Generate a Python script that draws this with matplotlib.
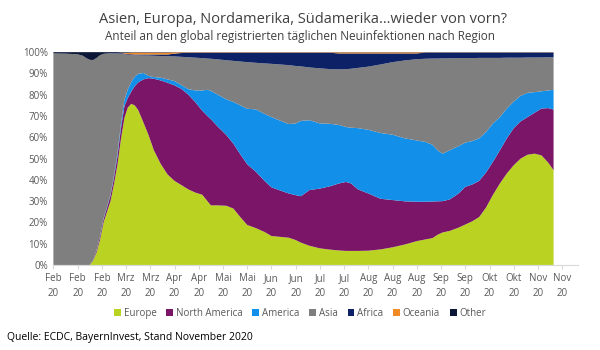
import matplotlib
matplotlib.use("Agg")
import matplotlib.pyplot as plt
from matplotlib.patches import Patch

plt.rcParams['font.family'] = ['Open Sans', 'DejaVu Sans']

# days since 1 Feb 2020
days = [0, 7, 14, 17, 19, 21, 23, 25, 27, 29, 31, 33, 35, 37, 39, 41, 43, 45, 47, 49,
        52, 55, 58, 62, 66, 70, 74, 78, 82, 86, 89, 91, 95, 100, 104, 108, 112, 117, 122, 126,
        131, 136, 140, 143, 148, 154, 160, 165, 169, 172, 176, 182, 189, 196, 203, 210, 215, 219, 222, 225,
        229, 234, 238, 242, 246, 250, 254, 258, 262, 266, 270, 274, 278, 282, 286, 289]

europe = [0, 0, 0, 0, 0, 0, 2, 6, 12, 20, 25, 30, 38, 47, 59, 69, 74, 75.7, 75, 72.8,
          67, 61, 54, 47.5, 42.5, 39.5, 37.5, 35.5, 34, 33, 30, 28, 28, 27.8, 26.5, 22.5, 18.8, 17.3, 15.5, 13.6,
          13.2, 12.8, 11.7, 10.5, 9, 7.8, 7.2, 6.8, 6.6, 6.6, 6.6, 6.7, 7.3, 8.3, 9.6, 11.2, 12, 12.6, 14.2, 15.3,
          16, 17.5, 19, 20.5, 22.5, 27, 33, 38.3, 43, 46.9, 50, 51.8, 52.3, 51.5, 48, 44.5]

north_america = [0, 0, 0, 0, 0, 0, 0.3, 1.0, 1.5, 1.5, 2.0, 2.5, 3.0, 4.0, 5.0, 5.5, 4.5, 5.8, 9.0, 13.0,
                 20.2, 26.8, 33.5, 39.2, 43.1, 44.9, 45.2, 44.5, 42.5, 39.5, 40.0, 40.5, 37.0, 33.2, 30.5, 29.5, 28.5, 26.5, 24.0, 22.9,
                 21.8, 20.8, 21.1, 21.8, 26.2, 28.1, 29.8, 31.5, 32.4, 31.7, 28.9, 26.9, 23.8, 22.2, 20.3, 18.5, 17.7, 17.2, 15.7, 14.7,
                 14.8, 16.0, 17.7, 17.3, 17.0, 16.5, 15.5, 15.6, 16.5, 17.4, 17.5, 17.7, 19.2, 22.0, 25.7, 28.5]

america = [0, 0, 0, 0, 0, 0, 0, 0.2, 0.3, 0.5, 0.5, 0.5, 1.0, 1.5, 2.0, 3.0, 4.0, 4.5, 4.5, 4.0,
           3.0, 1.0, 0.8, 1.3, 1.6, 2.0, 1.8, 2.6, 5.5, 9.5, 12.3, 13.3, 15.0, 16.8, 19.6, 23.0, 26.1, 29.3, 31.5, 33.0,
           32.8, 32.6, 33.7, 35.4, 32.8, 30.6, 29.3, 27.5, 25.8, 26.2, 28.8, 29.9, 30.9, 30.7, 29.6, 28.8, 28.1, 26.7, 23.9, 22.3,
           23.1, 22.3, 20.8, 20.4, 20.0, 19.0, 18.0, 15.6, 14.0, 12.5, 12.0, 11.4, 9.7, 8.1, 8.3, 9.3]

asia = [99.4, 99.3, 99.0, 98.3, 97.2, 96.4, 94.0, 90.1, 84.8, 77.2, 71.8, 66.4, 57.4, 46.9, 33.3, 21.6, 16.3, 12.6, 10.0, 8.7,
        8.2, 9.6, 10.0, 10.2, 10.9, 11.6, 13.3, 15.0, 15.4, 15.2, 14.7, 15.1, 16.6, 18.4, 19.3, 20.6, 21.9, 21.9, 23.7, 25.0,
        26.4, 27.7, 27.0, 25.6, 24.8, 25.9, 25.7, 26.1, 27.2, 27.7, 28.3, 29.7, 32.2, 34.1, 36.6, 38.2, 39.1, 40.5, 43.2, 44.8,
        43.2, 41.4, 39.7, 39.0, 37.8, 34.8, 30.8, 27.8, 23.9, 20.6, 17.9, 16.6, 16.3, 15.9, 15.6, 15.3]

africa = [0, 0, 0, 0, 0, 0, 0, 0, 0, 0, 0.1, 0.1, 0.2, 0.2, 0.3, 0.3, 0.3, 0.4, 0.4, 0.4,
          0.5, 0.5, 0.6, 0.7, 0.8, 1.3, 1.8, 2.1, 2.3, 2.5, 2.7, 2.8, 3.1, 3.5, 3.8, 4.1, 4.4, 4.7, 5.0, 5.2,
          5.5, 5.8, 6.2, 6.4, 6.9, 7.3, 7.7, 7.5, 7.4, 7.2, 6.8, 6.2, 5.2, 4.1, 3.3, 2.7, 2.9, 2.8, 2.8, 2.7,
          2.7, 2.6, 2.6, 2.6, 2.5, 2.5, 2.5, 2.5, 2.4, 2.4, 2.4, 2.3, 2.3, 2.3, 2.2, 2.2]

oceania = [0, 0, 0, 0, 0, 0, 0, 0, 0, 0, 0, 0, 0, 0, 0.1, 0.3, 0.6, 0.8, 0.9, 0.9,
           0.9, 0.9, 0.9, 0.9, 0.9, 0.6, 0.3, 0.2, 0.2, 0.2, 0.2, 0.2, 0.2, 0.2, 0.2, 0.2, 0.2, 0.2, 0.2, 0.2,
           0.2, 0.2, 0.2, 0.2, 0.2, 0.2, 0.2, 0.5, 0.5, 0.5, 0.5, 0.5, 0.5, 0.5, 0.5, 0.5, 0.1, 0.1, 0.1, 0.1,
           0.1, 0.1, 0.1, 0.1, 0.1, 0.1, 0.1, 0.1, 0.1, 0.1, 0.1, 0.1, 0.1, 0.1, 0.1, 0.1]

other = [0.6, 0.7, 1.0, 1.7, 2.8, 3.6, 3.7, 2.7, 1.4, 0.8, 0.6, 0.5, 0.4, 0.4, 0.3, 0.3, 0.3, 0.2, 0.2, 0.2,
         0.2, 0.2, 0.2, 0.2, 0.2, 0.1, 0.1, 0.1, 0.1, 0.1, 0.1, 0.1, 0.1, 0.1, 0.1, 0.1, 0.1, 0.1, 0.1, 0.1,
         0.1, 0.1, 0.1, 0.1, 0.1, 0.1, 0.1, 0.1, 0.1, 0.1, 0.1, 0.1, 0.1, 0.1, 0.1, 0.1, 0.1, 0.1, 0.1, 0.1,
         0.1, 0.1, 0.1, 0.1, 0.1, 0.1, 0.1, 0.1, 0.1, 0.1, 0.1, 0.1, 0.1, 0.1, 0.1, 0.1]

series_names = ["Europe", "North America", "America", "Asia", "Africa", "Oceania", "Other"]
colors = ["#BAD323", "#7B1567", "#128FE8", "#7F7F7F", "#0D2266", "#F08A24", "#0C1636"]

tick_days = [0, 14, 28, 42, 56, 70, 84, 98, 112, 126, 140, 154, 168, 182, 196, 210, 224, 238, 252, 266, 280, 294]
tick_months = ["Feb", "Feb", "Feb", "Mrz", "Mrz", "Apr", "Apr", "Mai", "Mai", "Jun", "Jun",
               "Jul", "Jul", "Aug", "Aug", "Aug", "Sep", "Sep", "Okt", "Okt", "Nov", "Nov"]
tick_year = "20"

fig = plt.figure(figsize=(6, 3.5), dpi=100)
ax = fig.add_axes([0.089, 0.243, 0.874, 0.608])

ax.stackplot(days, europe, north_america, america, asia, africa, oceania, other,
             colors=colors, linewidth=0, labels=series_names)
ax.set_xlim(0, 303)
ax.set_ylim(0, 100)

ax.set_yticks(range(0, 101, 10))
ax.set_yticklabels([f"{v}%" for v in range(0, 101, 10)], fontsize=7, color="#595959")
ax.set_xticks(tick_days)
ax.set_xticklabels([f"{m}\n{tick_year}" for m in tick_months], fontsize=7, color="#595959",
                   linespacing=1.45)
ax.tick_params(axis='y', length=0, pad=4)
ax.tick_params(axis='x', length=3, color="#D9D9D9", pad=3)
for s in ["top", "right", "left"]:
    ax.spines[s].set_visible(False)
ax.spines["bottom"].set_color("#D9D9D9")

fig.text(0.505, 0.945, "Asien, Europa, Nordamerika, Südamerika…wieder von vorn?",
         ha="center", va="center", fontsize=10.5, color="#404040")
fig.text(0.5, 0.895, "Anteil an den global registrierten täglichen Neuinfektionen nach Region",
         ha="center", va="center", fontsize=8.5, color="#404040")

handles = [Patch(facecolor=c, edgecolor="none", label=n) for c, n in zip(colors, series_names)]
fig.legend(handles=handles, loc="center", bbox_to_anchor=(0.5, 0.105), ncol=7, frameon=False,
           fontsize=7, handlelength=0.7, handleheight=0.7, handletextpad=0.3, columnspacing=1.0,
           labelcolor="#595959")

fig.text(0.012, 0.035, "Quelle: ECDC, BayernInvest, Stand November 2020",
         ha="left", va="center", fontsize=7.5, color="#000000")

fig.savefig("out.png", dpi=100)
